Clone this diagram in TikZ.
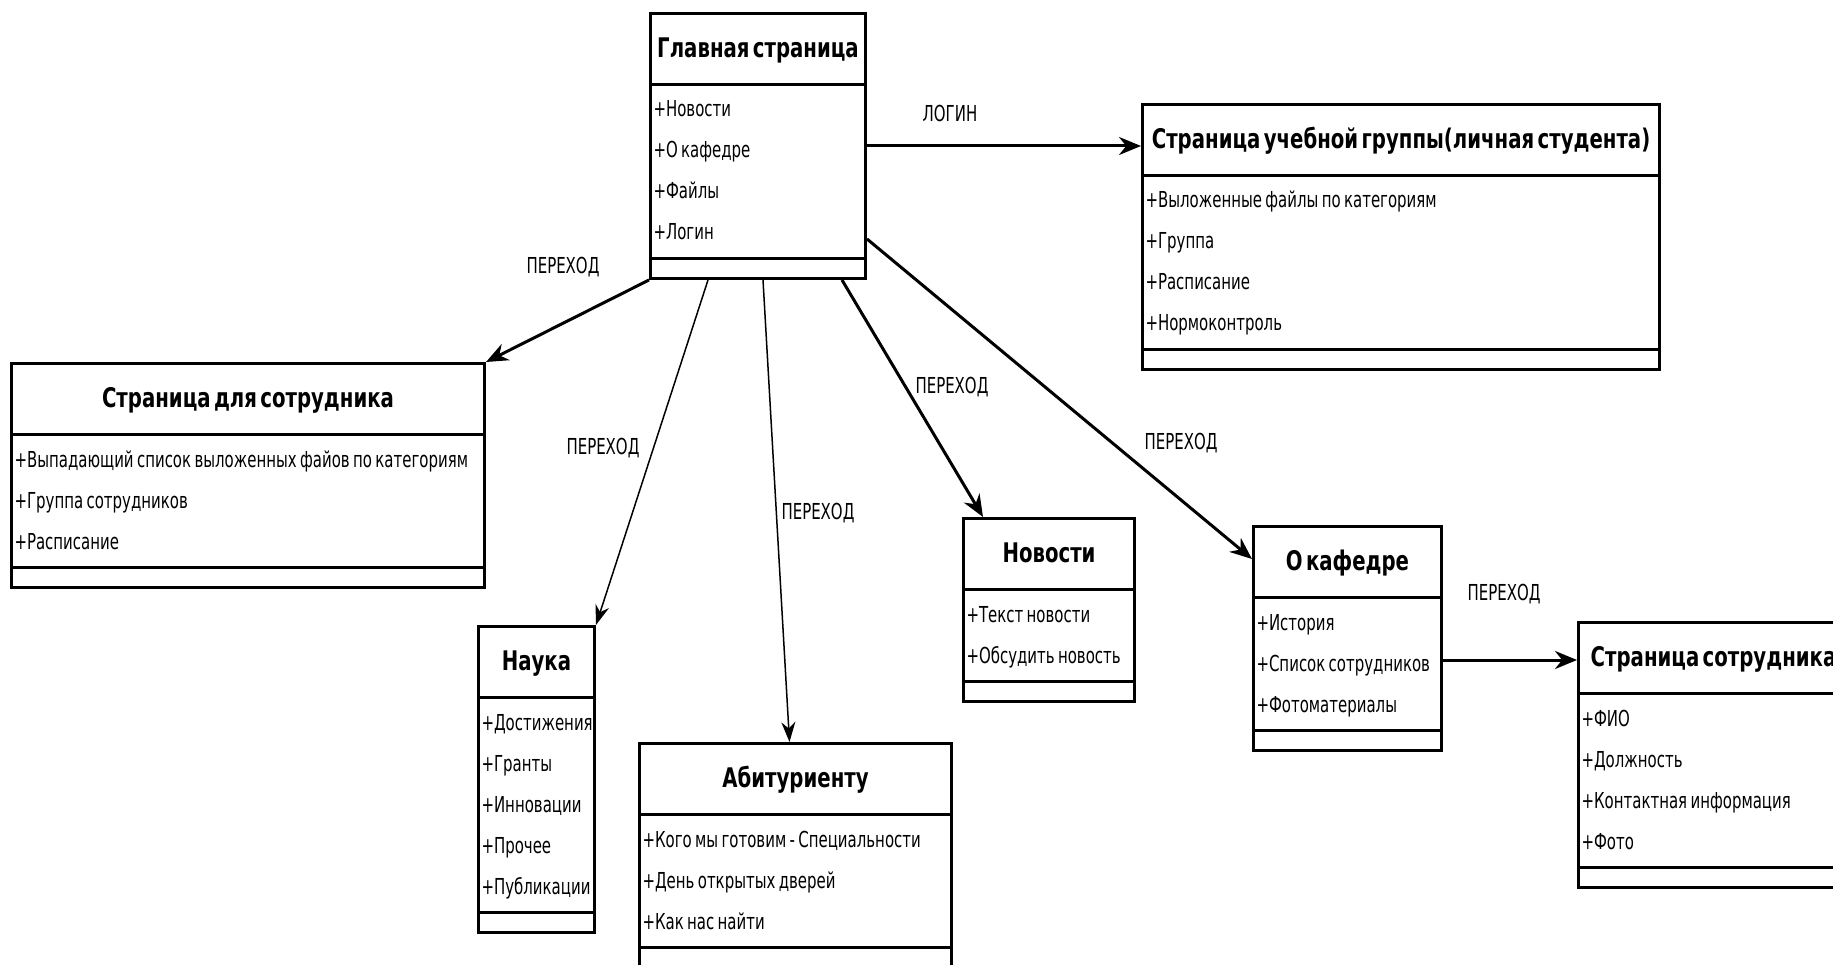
\documentclass[tikz,border=0pt]{standalone}
\usepackage{fontspec}
\setmainfont{DejaVu Sans}[FakeStretch=0.68, BoldFeatures={FakeStretch=0.73}]
\usetikzlibrary{shapes.multipart,arrows.meta}
\newcommand{\ttl}[1]{{\centering\fontsize{27}{30}\selectfont\bfseries\rule[-25.5pt]{0pt}{68pt}#1\par}}
\newcommand{\lst}[1]{{\raggedright\fontsize{22}{41}\selectfont\rule{0pt}{31pt}#1\rule[-17pt]{0pt}{0pt}\par}}
\newcommand{\nix}{\rule{0pt}{17pt}}
\tikzset{
  umlbox/.style={draw, line width=3pt, rectangle split, rectangle split parts=3,
    inner xsep=3pt, inner ysep=0pt, anchor=north west},
  link/.style={line width=3pt, -{Stealth[length=22pt,width=18pt]}},
  thinlink/.style={line width=1.5pt, -{Stealth[length=20pt,width=14pt]}},
  lbl/.style={font=\fontsize{22}{24}\selectfont, inner sep=0pt}
}
\begin{document}
\begin{tikzpicture}[x=1pt,y=-1pt]
\useasboundingbox (0,0) rectangle (1833,965);
\clip (0,0) rectangle (1833,965);
\fill[white] (0,0) rectangle (1833,965);
\node[umlbox, text width=209pt] (main) at (649,12) {\ttl{Главная страница}\nodepart{second}\lst{+Новости\\+О кафедре\\+Файлы\\+Логин}\nodepart{third}\nix};
\node[umlbox, text width=511pt] (stud) at (1141,103) {\ttl{Страница учебной группы(личная студента)}\nodepart{second}\lst{+Выложенные файлы по категориям\\+Группа\\+Расписание\\+Нормоконтроль}\nodepart{third}\nix};
\node[umlbox, text width=467pt] (staff) at (10,362) {\ttl{Страница для сотрудника}\nodepart{second}\lst{+Выпадающий список выложенных файов по категориям\\+Группа сотрудников\\+Расписание}\nodepart{third}\nix};
\node[umlbox, text width=110pt] (nauka) at (477,625) {\ttl{Наука}\nodepart{second}\lst{+Достижения\\+Гранты\\+Инновации\\+Прочее\\+Публикации}\nodepart{third}\nix};
\node[umlbox, text width=306pt] (abit) at (638,742) {\ttl{Абитуриенту}\nodepart{second}\lst{+Кого мы готовим - Специальности\\+День открытых дверей\\+Как нас найти}\nodepart{third}\nix};
\node[umlbox, text width=165pt] (news) at (962,517) {\ttl{Новости}\nodepart{second}\lst{+Текст новости\\+Обсудить новость}\nodepart{third}\nix};
\node[umlbox, text width=182pt] (okaf) at (1252,525) {\ttl{О кафедре}\nodepart{second}\lst{+История\\+Список сотрудников\\+Фотоматериалы}\nodepart{third}\nix};
\node[umlbox, text width=264pt] (sotr) at (1577,621) {\ttl{Страница сотрудника}\nodepart{second}\lst{+ФИО\\+Должность\\+Контактная информация\\+Фото}\nodepart{third}\nix};
\coordinate (sotrin) at ([yshift=-39pt]sotr.north west);
\draw[link] (main.east) -- (main.east -| stud.west);
\draw[link] (main.south west) -- (staff.north east);
\draw[thinlink] ([xshift=59pt]main.south west) -- (nauka.north east);
\draw[thinlink] ([xshift=114pt]main.south west) -- ([xshift=-6pt]abit.north);
\draw[link] ([xshift=193pt]main.south west) -- ([xshift=21pt]news.north west);
\draw[link] ([yshift=41pt]main.south east) -- ([yshift=-34pt]okaf.north west);
\draw[link] (sotrin -| okaf.east) -- (sotrin);
\node[lbl] (l1) at (950,113) {ЛОГИН};
\node[lbl] (l2) at (563,267) {ПЕРЕХОД};
\node[lbl] (l3) at (603,448) {ПЕРЕХОД};
\node[lbl] (l4) at (818,513) {ПЕРЕХОД};
\node[lbl] (l5) at (952,387) {ПЕРЕХОД};
\node[lbl] (l6) at (1181,443) {ПЕРЕХОД};
\node[lbl] (l7) at (1504,594) {ПЕРЕХОД};
\end{tikzpicture}
\end{document}
